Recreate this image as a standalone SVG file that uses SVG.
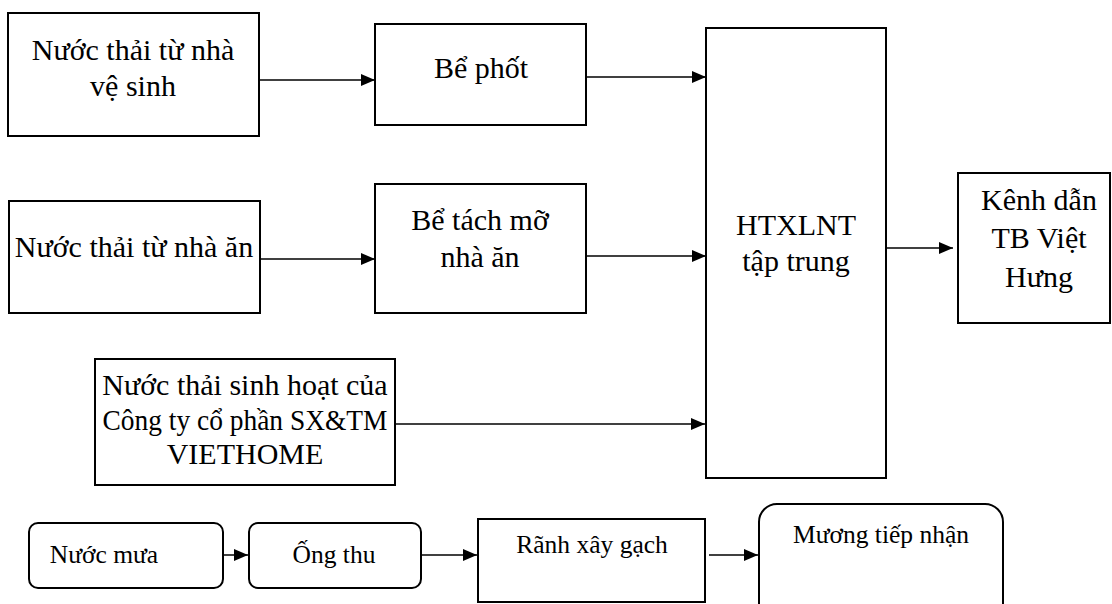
<svg xmlns="http://www.w3.org/2000/svg" width="1112" height="604" viewBox="0 0 1112 604">
  <style>
    .box { fill: #fff; stroke: #000; stroke-width: 2; }
    .t { font-size: 30px; fill: #000; text-anchor: middle; }
    .s { font-size: 25.5px; fill: #000; text-anchor: middle; }
    .c { stroke: #000; stroke-width: 1.5; fill: none; marker-end: url(#arrow); }
  </style>
  <defs>
    <marker id="arrow" markerWidth="14" markerHeight="12" refX="14" refY="6" orient="auto" markerUnits="userSpaceOnUse">
      <path d="M0,0 L14,6 L0,12 Z" fill="#000"/>
    </marker>
  </defs>
  <rect width="1112" height="604" fill="#fff"/>

  <!-- flow arrows -->
  <g id="connectors">
    <line class="c" x1="259" y1="80" x2="375" y2="80"/>
    <line class="c" x1="586" y1="77" x2="706" y2="77"/>
    <line class="c" x1="260" y1="259" x2="375" y2="259"/>
    <line class="c" x1="586" y1="256" x2="706" y2="256"/>
    <line class="c" x1="395" y1="424" x2="705" y2="424"/>
    <line class="c" x1="886" y1="248" x2="953" y2="248"/>
    <line class="c" x1="223" y1="555" x2="248" y2="555"/>
    <line class="c" x1="421" y1="555" x2="477" y2="555"/>
    <line class="c" x1="709" y1="555" x2="758" y2="555"/>
  </g>

  <g id="node-wc">
    <rect class="box" x="8" y="13" width="251" height="123"/>
    <text class="t" font-family="Liberation Serif" x="133" y="60">Nước thải từ nhà</text>
    <text class="t" font-family="Liberation Serif" x="133" y="96">vệ sinh</text>
  </g>

  <g id="node-be-phot">
    <rect class="box" x="375" y="24" width="211" height="101"/>
    <text class="t" font-family="Liberation Serif" x="481" y="78">Bể phốt</text>
  </g>

  <g id="node-nha-an">
    <rect class="box" x="9" y="201" width="251" height="112"/>
    <text class="t" font-family="Liberation Serif" x="134" y="257">Nước thải từ nhà ăn</text>
  </g>

  <g id="node-be-tach-mo">
    <rect class="box" x="375" y="184" width="211" height="129"/>
    <text class="t" font-family="Liberation Serif" x="480" y="230">Bể tách mỡ</text>
    <text class="t" font-family="Liberation Serif" x="480" y="267">nhà ăn</text>
  </g>

  <g id="node-viethome">
    <rect class="box" x="95" y="359" width="300" height="126"/>
    <text class="t" font-family="Liberation Serif" x="245" y="395">Nước thải sinh hoạt của</text>
    <text class="t" font-family="Liberation Serif" x="245" y="430" textLength="285" lengthAdjust="spacingAndGlyphs">Công ty cổ phần SX&amp;TM</text>
    <text class="t" font-family="Liberation Serif" x="245" y="464">VIETHOME</text>
  </g>

  <g id="node-htxlnt">
    <rect class="box" x="706" y="28" width="180" height="450"/>
    <text class="t" font-family="Liberation Serif" x="796" y="235">HTXLNT</text>
    <text class="t" font-family="Liberation Serif" x="796" y="271">tập trung</text>
  </g>

  <g id="node-kenh-dan">
    <rect class="box" x="958" y="173" width="152" height="150"/>
    <text class="t" font-family="Liberation Serif" x="1039" y="210">Kênh dẫn</text>
    <text class="t" font-family="Liberation Serif" x="1039" y="248">TB Việt</text>
    <text class="t" font-family="Liberation Serif" x="1039" y="287">Hưng</text>
  </g>

  <g id="node-nuoc-mua">
    <rect class="box" x="29" y="523" width="194" height="65" rx="9"/>
    <text class="s" font-family="Liberation Serif" x="104" y="563">Nước mưa</text>
  </g>

  <g id="node-ong-thu">
    <rect class="box" x="249" y="523" width="172" height="65" rx="9"/>
    <text class="s" font-family="Liberation Serif" x="334" y="563">Ống thu</text>
  </g>

  <g id="node-ranh">
    <rect class="box" x="478" y="519" width="227" height="83"/>
    <text class="s" font-family="Liberation Serif" x="592" y="553">Rãnh xây gạch</text>
  </g>

  <g id="node-muong">
    <rect class="box" x="759" y="504" width="244" height="120" rx="18"/>
    <text class="s" font-family="Liberation Serif" x="881" y="543">Mương tiếp nhận</text>
  </g>
</svg>
